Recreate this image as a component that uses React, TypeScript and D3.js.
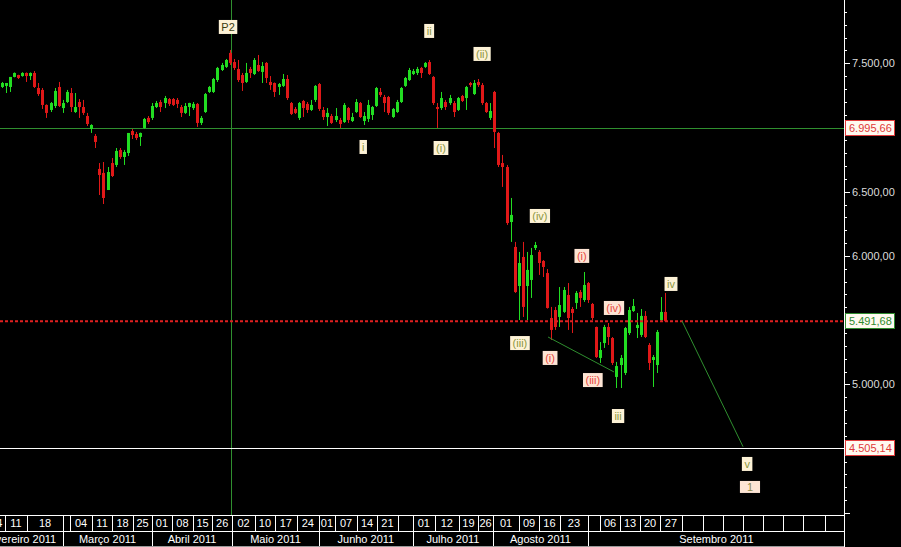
import React from 'react';
import * as d3 from 'd3';

const W = 901;
const H = 547;
const PLOT_RIGHT = 844;
const PLOT_BOTTOM = 515;
const ROW1_BOTTOM = 531;
const ROW2_BOTTOM = 546;

// ---- daily candles (Ibovespa-like index, Feb–Sep 2011) ----
const opens = [7315,7323,7315,7393,7408,7400,7424,7400,7424,7307,7292,7175,7136,7167,7315,7151,7198,7268,7120,7198,7159,7089,6988,6934,6677,6646,6513,6723,6708,6825,6770,6801,6972,6949,6926,6996,7074,7074,7159,7198,7190,7221,7221,7214,7159,7113,7159,7151,7183,7035,7120,7276,7276,7369,7447,7471,7580,7509,7455,7408,7354,7455,7416,7486,7432,7502,7354,7346,7315,7323,7377,7190,7144,7074,7206,7183,7136,7214,7338,7136,7081,7089,7058,7058,7042,7151,7050,7120,7190,7050,7066,7097,7167,7276,7237,7237,7081,7120,7198,7323,7369,7416,7424,7463,7471,7509,7393,7159,7151,7198,7190,7190,7136,7245,7229,7346,7260,7354,7330,7190,7074,7276,6957,6723,6692,6264,6070,5766,5992,5766,5813,6062,6031,5961,5867,5517,5579,5525,5564,5696,5587,5634,5719,5657,5789,5626,5447,5206,5322,5447,5361,5058,5151,5089,5400,5571,5439,5385,5533,5307,5190,5151,5501,5564];
const highs = [7354,7346,7393,7428,7410,7430,7428,7428,7439,7346,7307,7180,7198,7307,7354,7214,7292,7307,7268,7221,7214,7113,7025,6949,6723,6731,6692,6762,6840,6840,6825,6957,6988,6965,6960,7074,7089,7190,7206,7214,7245,7229,7229,7229,7175,7190,7192,7198,7190,7089,7268,7323,7385,7471,7502,7533,7603,7533,7525,7424,7502,7471,7540,7564,7509,7509,7400,7350,7346,7416,7408,7198,7159,7198,7214,7198,7214,7330,7346,7159,7151,7105,7151,7074,7190,7159,7113,7221,7198,7120,7214,7167,7315,7307,7253,7245,7151,7214,7315,7393,7463,7455,7471,7471,7509,7525,7400,7190,7276,7214,7253,7206,7237,7253,7323,7354,7369,7377,7346,7198,7190,7284,6965,6786,6708,6451,6109,6031,6109,6031,6062,6109,6046,5968,5898,5603,5603,5758,5758,5789,5603,5727,5735,5875,5797,5634,5450,5330,5463,5478,5369,5175,5229,5447,5603,5665,5556,5587,5571,5322,5229,5424,5680,5712];
const lows = [7307,7268,7276,7390,7377,7395,7354,7369,7307,7245,7144,7074,7120,7151,7159,7113,7190,7120,7113,7074,7097,7011,6957,6840,6474,6404,6513,6614,6692,6755,6708,6778,6910,6902,6856,6990,7027,7058,7151,7120,7151,7167,7167,7151,7081,7105,7089,7136,7004,7019,7113,7268,7268,7354,7439,7463,7486,7447,7354,7284,7346,7385,7408,7432,7346,7346,7292,7237,7253,7315,7214,7097,7105,7058,7081,7113,7128,7198,7128,7058,7011,7027,7042,6996,7035,7035,7042,7113,7074,7019,7042,7058,7159,7237,7120,7097,7074,7113,7190,7315,7362,7408,7408,7385,7463,7408,7175,6996,7136,7136,7175,7081,7128,7198,7136,7315,7253,7315,7175,7113,7058,6840,6692,6537,6241,6109,5712,5501,5525,5501,5673,6046,5852,5836,5590,5346,5424,5447,5556,5424,5400,5587,5603,5642,5634,5501,5206,5167,5284,5307,5151,4972,4972,5073,5385,5564,5361,5369,5361,5112,4980,5089,5494,5486];
const closes = [7346,7346,7393,7424,7385,7424,7400,7424,7315,7260,7175,7113,7190,7284,7167,7190,7276,7159,7159,7159,7113,7027,7019,6887,6630,6451,6653,6622,6817,6770,6809,6957,6941,6918,6957,7066,7042,7167,7190,7159,7229,7183,7175,7183,7113,7167,7190,7183,7035,7074,7260,7315,7377,7463,7486,7525,7502,7463,7369,7346,7424,7424,7525,7439,7478,7385,7330,7276,7338,7377,7229,7105,7113,7190,7151,7136,7175,7323,7144,7081,7113,7035,7089,7027,7175,7058,7081,7198,7081,7089,7175,7159,7307,7253,7190,7113,7144,7198,7307,7385,7447,7439,7455,7424,7502,7416,7190,7144,7229,7159,7229,7120,7229,7206,7315,7330,7346,7330,7190,7120,7128,6965,6708,6692,6256,6319,5719,5945,5603,5891,6007,6085,5945,5914,5595,5424,5447,5618,5735,5517,5556,5712,5673,5774,5657,5517,5213,5268,5447,5369,5167,5143,5206,5439,5579,5610,5463,5533,5369,5167,5213,5408,5564,5492];

// ---- time axis cells (in candle-slot units) ----
const dayBounds = [-3.5,0.8,6.2,15.1,16.8,22.2,27.1,32.3,36.9,41.8,47.0,51.7,56.6,62.2,67.1,72.5,77.9,81.9,87.3,92.2,97.3,101.0,106.4,112.3,117.0,120.7,127.1,132.0,137.1,144.0,147.0,151.9,156.8,161.7,167.1,172.3,177.2,182.1,187.0,191.9,196.8,202.2,207.1];
const dayLabels = ['04','11','18','','04','11','18','25','01','08','15','26','02','10','17','24','01','07','14','21','','01','12','19','26','01','09','16','23','','06','13','20','27','','','','','','','',''];
const monthBounds = [-6.3,15.1,36.9,56.6,77.9,101.0,120.7,144.0,207.1];
const monthLabels = ['Fevereiro 2011','Março 2011','Abril 2011','Maio 2011','Junho 2011','Julho 2011','Agosto 2011','Setembro 2011'];

// ---- price levels ----
const levelValues = [6995.66, 5491.68, 4505.14];
const axisLabelValues = [7500, 6500, 6000, 5000];

// ---- annotations (Elliott wave counts) ----
const waveTexts = ['P2','ii','(ii)','i','(i)','(iv)','(i)','(iv)','iv','(iii)','(i)','(iii)','iii','v','1'];
const waveSlots = [55.6,105.0,118.0,88.8,107.9,132.2,142.5,150.4,164.4,127.3,134.7,145.2,151.4,183.1,183.8];
const wavePrices = [7782,7751,7572,6848,6840,6311,6000,5595,5782,5322,5206,5034,4754,4381,4202];
const waveTones = ['dark','olive','olive','olive','olive','olive','red','red','olive','olive','red','red','olive','olive','wide'];

const trendStarts = [[134.2,5369],[167.1,5494]];
const trendEnds = [[150.4,5097],[182.1,4515]];
const markerSlot = 56.3;

const FONT = "'Liberation Sans', Arial, sans-serif";
const GREEN = '#22dd22';
const RED = '#e01818';
const LINE_GREEN = '#2f8f2f';

const fmt = d3.formatLocale({ decimal: ',', thousands: '.', grouping: [3], currency: ['R$', ''] }).format(',.2f');

let _ctx: CanvasRenderingContext2D | null = null;
function textW(t: string, size = 11) {
  if (!_ctx) _ctx = document.createElement('canvas').getContext('2d');
  if (!_ctx) return t.length * 6;
  _ctx.font = `${size}px ${FONT}`;
  return _ctx.measureText(t).width;
}

export default function App() {
  const x = d3.scaleLinear().domain([0, 163]).range([1.7, 665.3]);
  const y = d3.scaleLinear().domain([4505.14, 6995.66]).range([448, 128]);

  const ticks = d3.range(4000, 8000, 100).filter((v) => y(v) >= 0 && y(v) <= PLOT_BOTTOM);

  return (
    <svg width={W} height={H} style={{ position: 'fixed', left: 0, top: 0, background: '#000' }} fontFamily={FONT}>
      <rect x={0} y={0} width={W} height={H} fill="#000" />
      <defs>
        <clipPath id="plot">
          <rect x={0} y={0} width={PLOT_RIGHT} height={PLOT_BOTTOM} />
        </clipPath>
        <clipPath id="axisx">
          <rect x={0} y={PLOT_BOTTOM} width={PLOT_RIGHT + 1} height={H - PLOT_BOTTOM} />
        </clipPath>
      </defs>

      <g clipPath="url(#plot)">
        {/* reference lines */}
        <line x1={0} x2={PLOT_RIGHT} y1={Math.round(y(levelValues[0])) + 0.5} y2={Math.round(y(levelValues[0])) + 0.5} stroke={LINE_GREEN} strokeWidth={1} />
        <line x1={Math.round(x(markerSlot)) + 0.5} x2={Math.round(x(markerSlot)) + 0.5} y1={0} y2={PLOT_BOTTOM} stroke={LINE_GREEN} strokeWidth={1} />
        <line x1={0} x2={PLOT_RIGHT} y1={Math.round(y(levelValues[2])) + 0.5} y2={Math.round(y(levelValues[2])) + 0.5} stroke="#ffffff" strokeWidth={1} />

        {/* candles */}
        {opens.map((o, i) => {
          const c = closes[i];
          const up = c >= o;
          const col = up ? GREEN : RED;
          const cx = Math.round(x(i));
          const yTop = y(Math.max(o, c));
          const yBot = y(Math.min(o, c));
          return (
            <g key={i}>
              <line x1={cx + 0.5} x2={cx + 0.5} y1={y(highs[i])} y2={y(lows[i])} stroke={col} strokeWidth={1} />
              <rect x={cx - 1} y={yTop} width={3} height={Math.max(1, yBot - yTop)} fill={col} />
            </g>
          );
        })}

        {/* last price dotted line */}
        <line x1={0} x2={PLOT_RIGHT} y1={y(levelValues[1])} y2={y(levelValues[1])} stroke="#e02020" strokeWidth={2} strokeDasharray="3 2" />

        {/* trend lines */}
        {trendStarts.map((s, i) => (
          <line key={i} x1={x(s[0])} y1={y(s[1])} x2={x(trendEnds[i][0])} y2={y(trendEnds[i][1])} stroke={LINE_GREEN} strokeWidth={1} />
        ))}

        {/* wave labels */}
        {waveTexts.map((t, i) => {
          const tone = waveTones[i];
          const tw = textW(t);
          const pad = tone === 'wide' ? 7 : 2.5;
          const bw = tw + pad * 2;
          const bh = tone === 'wide' ? 12 : 14;
          const cx = x(waveSlots[i]);
          const cy = y(wavePrices[i]);
          const bg = tone === 'red' || tone === 'wide' ? '#fde4d4' : '#fdf2d6';
          const fg = tone === 'red' ? '#e8483c' : tone === 'dark' ? '#3c3c10' : tone === 'wide' ? '#8c8a4a' : '#8c963e';
          return (
            <g key={i}>
              <rect x={cx - bw / 2} y={cy - bh / 2} width={bw} height={bh} fill={bg} />
              <text x={cx} y={cy + 4} textAnchor="middle" fontSize={11} fill={fg}>{t}</text>
            </g>
          );
        })}
      </g>

      {/* price axis */}
      <line x1={PLOT_RIGHT + 0.5} x2={PLOT_RIGHT + 0.5} y1={0} y2={H} stroke="#ffffff" strokeWidth={1} />
      {ticks.map((v) => {
        const yy = Math.round(y(v)) + 0.5;
        const major = v % 500 === 0;
        return <line key={v} x1={PLOT_RIGHT} x2={PLOT_RIGHT + (major ? 6 : 3)} y1={yy} y2={yy} stroke="#ffffff" strokeWidth={1} />;
      })}
      {axisLabelValues.map((v) => (
        <text key={v} x={852} y={y(v) + 4} fontSize={11} fill="#dcdcdc">{fmt(v)}</text>
      ))}

      {/* level boxes */}
      {levelValues.map((v, i) => {
        const col = i === 1 ? '#2e8b2e' : '#e03a3a';
        const cy = Math.round(y(v));
        return (
          <g key={i}>
            <rect x={845.5} y={cy - 7.5} width={49} height={15} fill="#fffaf0" stroke={col} strokeWidth={1} />
            <text x={849} y={cy + 4} fontSize={11} fill={col}>{fmt(v)}</text>
          </g>
        );
      })}

      {/* time axis */}
      <g clipPath="url(#axisx)">
        <line x1={0} x2={850} y1={PLOT_BOTTOM + 0.5} y2={PLOT_BOTTOM + 0.5} stroke="#ffffff" />
        <line x1={0} x2={PLOT_RIGHT} y1={ROW1_BOTTOM + 0.5} y2={ROW1_BOTTOM + 0.5} stroke="#ffffff" />
        <line x1={0} x2={PLOT_RIGHT} y1={ROW2_BOTTOM + 0.5} y2={ROW2_BOTTOM + 0.5} stroke="#9a9a9a" />
        {dayBounds.map((b, i) => {
          const xx = Math.round(x(b)) + 0.5;
          return <line key={'db' + i} x1={xx} x2={xx} y1={PLOT_BOTTOM} y2={ROW1_BOTTOM} stroke="#ffffff" />;
        })}
        {dayLabels.map((t, i) => (
          <text key={'dl' + i} x={(x(dayBounds[i]) + x(dayBounds[i + 1])) / 2} y={ROW1_BOTTOM - 4} textAnchor="middle" fontSize={11} fill="#ffffff">{t}</text>
        ))}
        {monthBounds.map((b, i) => {
          const xx = Math.round(x(b)) + 0.5;
          return <line key={'mb' + i} x1={xx} x2={xx} y1={ROW1_BOTTOM} y2={ROW2_BOTTOM} stroke="#ffffff" />;
        })}
        {monthLabels.map((t, i) => (
          <text key={'ml' + i} x={(x(monthBounds[i]) + x(monthBounds[i + 1])) / 2} y={ROW2_BOTTOM - 3} textAnchor="middle" fontSize={11} fill="#ffffff">{t}</text>
        ))}
      </g>
    </svg>
  );
}
